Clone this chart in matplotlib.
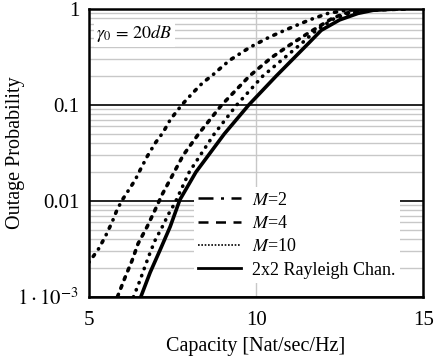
import matplotlib
matplotlib.use('Agg')
import matplotlib.pyplot as plt
from matplotlib.lines import Line2D
from matplotlib.ticker import FixedLocator, NullFormatter

plt.rcParams['font.family'] = ['Liberation Serif', 'DejaVu Serif']
plt.rcParams['mathtext.fontset'] = 'stix'

# outage probability levels and capacity (Nat/sec/Hz)
p_m2 = [0.0023, 0.0031, 0.0042, 0.006, 0.0081, 0.0103, 0.0165, 0.021, 0.029, 0.04,
        0.052, 0.07, 0.089, 0.105, 0.133, 0.17, 0.205, 0.25, 0.294, 0.4, 0.51,
        0.63, 0.77, 0.9, 0.97, 1.0]
c_m2 = [5.0, 5.27, 5.48, 5.69, 5.84, 6.0, 6.38, 6.53, 6.74, 6.98,
        7.22, 7.43, 7.66, 7.83, 8.1, 8.4, 8.7, 8.98, 9.22, 9.82, 10.4,
        11.0, 11.6, 12.15, 12.7, 13.5]

p_m4 = [0.001, 0.0016, 0.0024, 0.0036, 0.0054, 0.0081, 0.0117, 0.02, 0.03, 0.05,
        0.1, 0.2, 0.31, 0.42, 0.56, 0.8, 0.9, 0.97, 1.0]
c_m4 = [5.85, 6.08, 6.29, 6.47, 6.74, 6.98, 7.19, 7.55, 7.82, 8.28,
        8.97, 9.8, 10.45, 11.0, 11.56, 12.28, 12.65, 13.2, 14.5]

p_m10 = [0.001, 0.0015, 0.0021, 0.0029, 0.0039, 0.0056, 0.0072, 0.0095, 0.02, 0.05,
         0.1, 0.2, 0.3, 0.45, 0.6, 0.8, 0.9, 0.97, 1.0]
c_m10 = [6.33, 6.53, 6.68, 6.83, 6.98, 7.22, 7.37, 7.57, 8.0, 8.75,
         9.42, 10.2, 10.8, 11.4, 11.8, 12.35, 12.8, 13.3, 14.0]

p_ray = [0.001, 0.0018, 0.0031, 0.0054, 0.0103, 0.02, 0.05, 0.1, 0.2, 0.3,
         0.45, 0.6, 0.77, 0.9, 0.97, 1.0]
c_ray = [6.55, 6.83, 7.13, 7.43, 7.72, 8.2, 9.05, 9.78, 10.6, 11.1,
         11.6, 11.95, 12.5, 13.05, 13.5, 14.2]

labels = [r'$M$=2', r'$M$=4', r'$M$=10', '2x2 Rayleigh Chan.']
y_ticks = [1e-3, 1e-2, 1e-1, 1]
y_tick_labels = [r'$1\cdot 10^{-3}$', '0.01', '0.1', '1']
x_ticks = [5, 10, 15]

fig = plt.figure(figsize=(4.34, 3.6), dpi=100)
ax = fig.add_axes([0.205, 0.175, 0.77, 0.8])

lw = 2.6
ax.plot(c_m2, p_m2, color='black', lw=lw, dash_capstyle='round',
        linestyle=(0, (0.1, 1.9, 0.6, 1.9)))
ax.plot(c_m4, p_m4, color='black', lw=lw, dash_capstyle='round',
        linestyle=(0, (0.8, 1.8)))
ax.plot(c_m10, p_m10, color='black', lw=lw, dash_capstyle='round',
        linestyle=(0, (0.1, 2.0)))
ax.plot(c_ray, p_ray, color='black', lw=lw)

ax.set_yscale('log')
ax.set_xlim(5, 15)
ax.set_ylim(1e-3, 1)

# grid: black decades, grey minor lines, grey vertical at 10
ax.yaxis.set_major_locator(FixedLocator(y_ticks))
ax.set_yticklabels(y_tick_labels)
minor = [m * 10.0 ** e for e in (-3, -2, -1) for m in range(2, 10)]
ax.yaxis.set_minor_locator(FixedLocator(minor))
ax.yaxis.set_minor_formatter(NullFormatter())
ax.set_xticks(x_ticks)
ax.grid(True, which='major', axis='y', color='black', lw=1.2)
ax.grid(True, which='minor', axis='y', color='#c8c8c8', lw=1.0)
ax.grid(True, which='major', axis='x', color='#c8c8c8', lw=1.0)
ax.set_axisbelow(True)
ax.tick_params(which='both', length=0, labelsize=15)
ax.tick_params(axis='x', pad=10)
ax.tick_params(axis='y', pad=7)
for s in ax.spines.values():
    s.set_linewidth(1.8)

ax.set_xlabel('Capacity [Nat/sec/Hz]', fontsize=14.5, labelpad=5)
ax.set_ylabel('Outage Probability', fontsize=14.5)
ax.yaxis.set_label_coords(-0.19, 0.5)

ax.text(0.022, 0.915, r'$\gamma_0\,=\,20dB$', transform=ax.transAxes,
        fontsize=13, va='center', ha='left',
        bbox=dict(facecolor='white', edgecolor='none', pad=2))

handles = [
    Line2D([], [], color='black', lw=1.8, linestyle=(0, (6, 3, 1.2, 3))),
    Line2D([], [], color='black', lw=1.8, linestyle=(0, (4, 3))),
    Line2D([], [], color='black', lw=1.2, linestyle=(0, (1, 1))),
    Line2D([], [], color='black', lw=2.0),
]
leg = ax.legend(handles, labels, loc='lower right', bbox_to_anchor=(0.931, 0.048),
                fontsize=13, frameon=True, fancybox=False, framealpha=1,
                facecolor='white', edgecolor='none', borderpad=0.25,
                handlelength=2.4, handletextpad=0.6, labelspacing=0.35,
                borderaxespad=0)

fig.savefig('out.png', dpi=100)
